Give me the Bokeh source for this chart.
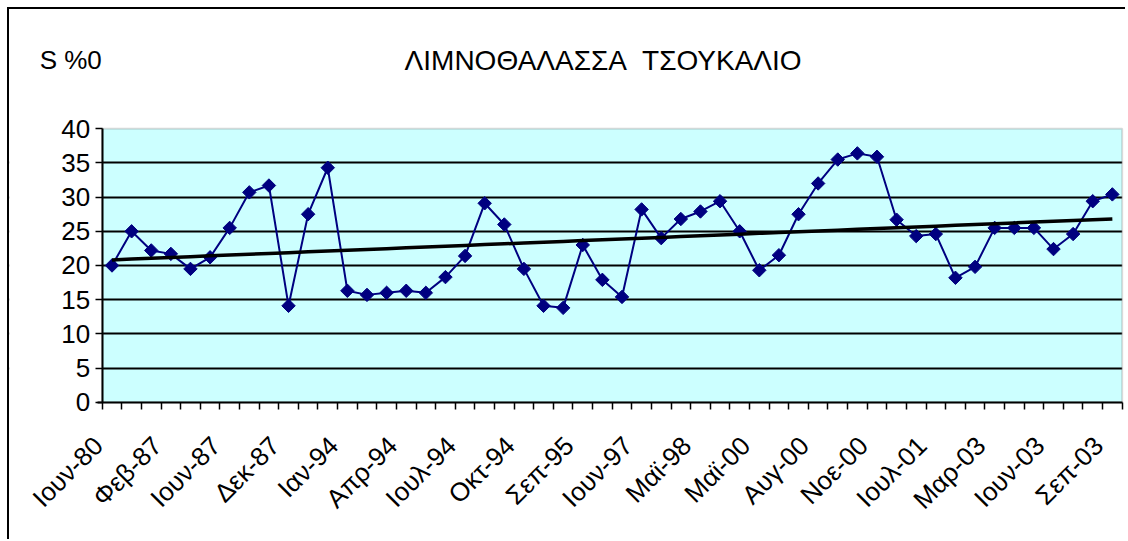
import numpy as np
from bokeh.plotting import figure
from bokeh.models import FixedTicker, Label, BoxAnnotation, Grid
from bokeh.embed import file_html
from bokeh.resources import INLINE

title_text = "ΛΙΜΝΟΘΑΛΑΣΣΑ\u00a0 ΤΣΟΥΚΑΛΙΟ"
y_label = "S %0"

# tick labels shown under every third sample
tick_labels = ["Ιουν-80", "Φεβ-87", "Ιουν-87", "Δεκ-87", "Ιαν-94", "Απρ-94",
               "Ιουλ-94", "Οκτ-94", "Σεπ-95", "Ιουν-97", "Μαϊ-98", "Μαϊ-00",
               "Αυγ-00", "Νοε-00", "Ιουλ-01", "Μαρ-03", "Ιουν-03", "Σεπ-03"]

salinity = [20.0, 25.0, 22.2, 21.7, 19.5, 21.2, 25.5, 30.7, 31.7, 14.1,
            27.5, 34.3, 16.3, 15.7, 16.0, 16.3, 16.0, 18.3, 21.4, 29.1,
            26.0, 19.5, 14.1, 13.8, 23.0, 17.9, 15.4, 28.2, 24.0, 26.8,
            27.9, 29.4, 25.0, 19.3, 21.5, 27.5, 32.0, 35.5, 36.4, 35.9,
            26.7, 24.3, 24.6, 18.2, 19.8, 25.5, 25.5, 25.5, 22.4, 24.6,
            29.4, 30.4]

y_ticks = [0, 5, 10, 15, 20, 25, 30, 35, 40]

FONT = "Liberation Sans"
CYAN = "#CCFFFF"
NAVY = "#000080"
n = len(salinity)
x = np.arange(n)
y = np.array(salinity)

# linear trend line (least squares)
k, b = np.polyfit(x, y, 1)
trend = k * x + b

lo, hi = -0.5, n - 0.5           # category extent
ymax = y_ticks[-1]

p = figure(width=1118, height=532, output_backend="svg", toolbar_location=None,
           x_range=(-5.226, 51.772), y_range=(-20.38, 57.45),
           min_border_left=0, min_border_right=0, min_border_top=0,
           min_border_bottom=0,
           background_fill_color="white", border_fill_color="white",
           outline_line_color=None, margin=(7, 0, 0, 7))
p.styles = {"border-left": "2px solid black", "border-top": "2px solid black"}
p.xgrid.visible = False
p.ygrid.visible = False

# plot area background
p.add_layout(BoxAnnotation(left=lo, right=hi, bottom=0, top=ymax,
                           fill_color=CYAN, fill_alpha=1,
                           line_color=None, level="underlay"))
# horizontal gridlines
p.add_layout(Grid(dimension=1, ticker=FixedTicker(ticks=y_ticks[1:-1]),
                  grid_line_color="black", grid_line_width=2))
# keep the areas beside the plot area white
p.add_layout(BoxAnnotation(left=-10, right=lo, bottom=-30, top=70,
                           fill_color="white", fill_alpha=1,
                           line_color=None, level="underlay"))
p.add_layout(BoxAnnotation(left=hi, right=60, bottom=-30, top=70,
                           fill_color="white", fill_alpha=1,
                           line_color=None, level="underlay"))
# grey edge of the plot area
p.add_layout(BoxAnnotation(left=lo, right=hi, bottom=0, top=ymax,
                           fill_alpha=0, line_color="#808080", line_width=2,
                           level="underlay"))

# x axis at y = 0
label_shift = 0.7
label_pos = list(range(0, n, 3))
p.xaxis.fixed_location = 0
p.xaxis.ticker = FixedTicker(ticks=[c - label_shift for c in label_pos],
                             minor_ticks=[i - 0.5 for i in range(n + 1)])
p.xaxis.major_label_overrides = {c - label_shift: lab
                                 for c, lab in zip(label_pos, tick_labels)}
p.xaxis.bounds = (-label_shift - 0.02, hi)
p.xaxis.major_label_orientation = np.pi / 4
p.xaxis.major_tick_line_color = None
p.xaxis.major_tick_out = 0
p.xaxis.major_tick_in = 0
p.xaxis.minor_tick_line_color = "black"
p.xaxis.minor_tick_line_width = 1.5
p.xaxis.minor_tick_out = 7
p.xaxis.minor_tick_in = 0
p.xaxis.axis_line_width = 2
p.xaxis.axis_line_color = "black"
p.xaxis.major_label_text_font = FONT
p.xaxis.major_label_text_font_size = "26px"
p.xaxis.major_label_text_color = "black"
p.xaxis.major_label_standoff = 32

# y axis at the left edge of the plot area
p.yaxis.fixed_location = lo
p.yaxis.bounds = (0, ymax)
p.yaxis.ticker = FixedTicker(ticks=y_ticks)
p.yaxis.major_tick_line_color = "black"
p.yaxis.major_tick_line_width = 1.5
p.yaxis.major_tick_out = 7
p.yaxis.major_tick_in = 0
p.yaxis.minor_tick_line_color = None
p.yaxis.axis_line_width = 2
p.yaxis.axis_line_color = "black"
p.yaxis.major_label_text_font = FONT
p.yaxis.major_label_text_font_size = "26px"
p.yaxis.major_label_text_color = "black"
p.yaxis.major_label_standoff = 5

# data
p.line(x, y, line_color=NAVY, line_width=2)
p.scatter(x, y, marker="square", angle=np.pi / 4, size=9.5,
          fill_color=NAVY, line_color=NAVY)
p.line(x, trend, line_color="black", line_width=3.5)

# texts
p.add_layout(Label(x=25.05, y=50.0, text=title_text, text_align="center",
                   text_baseline="middle", text_font=FONT,
                   text_font_size="28px", text_color="black"))
p.add_layout(Label(x=-3.69, y=50.0, text=y_label, text_align="left",
                   text_baseline="middle", text_font=FONT,
                   text_font_size="26px", text_color="black"))

open("out.html", "w").write(file_html(p, INLINE))
